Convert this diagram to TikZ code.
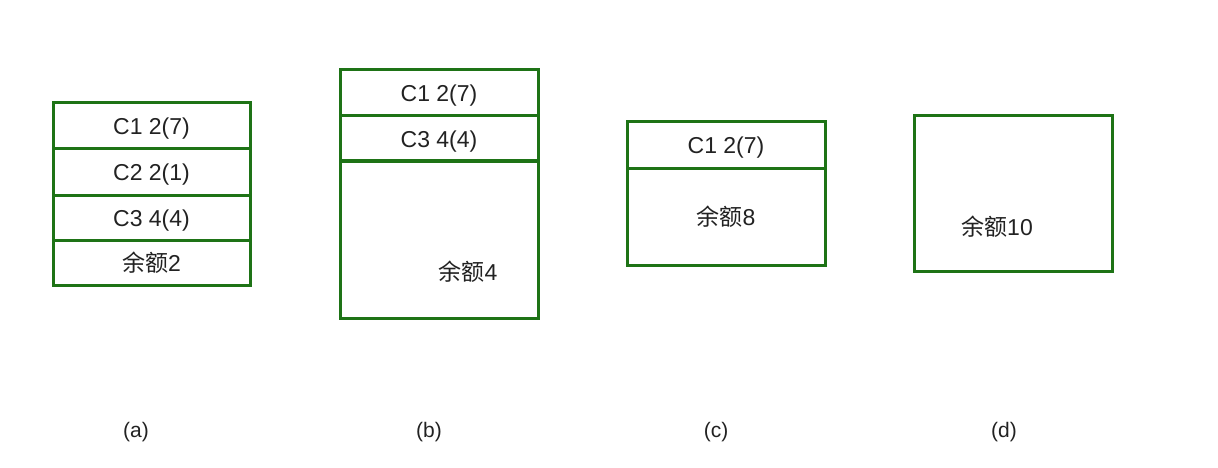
\documentclass[tikz,border=0pt]{standalone}
\usepackage{fontspec}
\setmainfont{Liberation Sans}
\newfontfamily\cjk{Noto Sans CJK SC}
\definecolor{boxgreen}{RGB}{30,115,22}
\definecolor{txt}{RGB}{34,34,34}
\begin{document}
\begin{tikzpicture}[x=1pt,y=-1pt,
  cell/.style={draw=boxgreen,line width=3pt,minimum width=197pt,inner sep=0pt,outer sep=0pt,text=txt,font=\fontsize{23}{26}\selectfont,text height=19pt,text depth=2pt},
  lbl/.style={inner sep=0pt,text=txt,font=\fontsize{23}{26}\selectfont,text height=19pt,text depth=2pt},
  captext/.style={inner sep=0pt,text=txt,font=\fontsize{21}{24}\selectfont,text height=17pt,text depth=2pt}]
\useasboundingbox (0,0) rectangle (1218,468);
% (a)
\node[cell,minimum height=46pt] (a1) at (151.5,126) {C1 2(7)};
\node[cell,minimum height=46pt] (a2) at (151.5,172) {C2 2(1)};
\node[cell,minimum height=45pt] (a3) at (151.5,217.5) {C3 4(4)};
\node[cell,minimum height=45pt] (a4) at (151.5,262.5) {{\cjk 余额}2};
% (b)
\node[cell,minimum width=198pt,minimum height=46pt] (b1) at (439,93) {C1 2(7)};
\node[cell,minimum width=198pt,minimum height=45pt] (b2) at (439,138.5) {C3 4(4)};
\node[cell,minimum width=198pt,minimum height=157pt] (b3) at (439,239.5) {};
\node[lbl] (b3t) at (468,272) {{\cjk 余额}4};
% (c)
\node[cell,minimum width=198pt,minimum height=46pt] (c1) at (726,145) {C1 2(7)};
\node[cell,minimum width=198pt,minimum height=97pt] (c2) at (726,216.5) {{\cjk 余额}8};
% (d)
\node[cell,minimum width=198pt,minimum height=155pt] (d1) at (1013,193.5) {};
\node[lbl] (d1t) at (997,227) {{\cjk 余额}10};
% captions
\node[captext] (la) at (136,430) {(a)};
\node[captext] (lb) at (429,430) {(b)};
\node[captext] (lc) at (716,430) {(c)};
\node[captext] (ld) at (1004,430) {(d)};
\end{tikzpicture}
\end{document}
